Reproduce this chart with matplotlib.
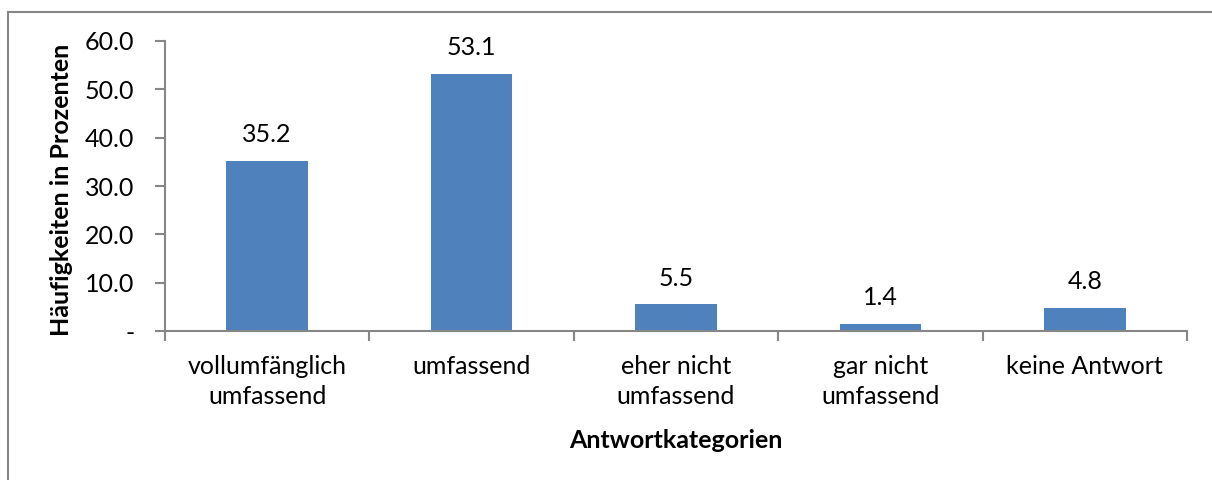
import matplotlib
matplotlib.use("Agg")
import matplotlib.pyplot as plt
from matplotlib.lines import Line2D

categories = ["vollumfänglich\numfassend", "umfassend", "eher nicht\numfassend",
              "gar nicht\numfassend", "keine Antwort"]
values = [35.2, 53.1, 5.5, 1.4, 4.8]
yticks = [0, 10, 20, 30, 40, 50, 60]
ytick_labels = ["-", "10.0", "20.0", "30.0", "40.0", "50.0", "60.0"]

plt.rcParams['font.family'] = ['Lato', 'DejaVu Sans']
FS = 18

W, H = 1212, 480
fig = plt.figure(figsize=(W / 100, H / 100), dpi=100)
ax = fig.add_axes([165 / W, 1 - 331 / H, (1187 - 165) / W, (331 - 41) / H])

x = list(range(len(categories)))
ax.bar(x, values, width=0.40, color="#4F81BD", zorder=2)
ax.set_xlim(-0.5, len(categories) - 0.5)
ax.set_ylim(0, 60)

for xi, v in zip(x, values):
    ax.annotate(f"{v:.1f}", (xi, v), xytext=(0, 19), textcoords="offset points",
                ha="center", va="center", fontsize=FS, color="black")

ax.set_yticks(yticks)
ax.set_yticklabels(ytick_labels, fontsize=FS)
ax.set_xticks([i + 0.5 for i in range(-1, len(categories))], minor=False)
ax.set_xticklabels([])
ax.set_xticks(x, minor=True)
ax.set_xticklabels(categories, minor=True, fontsize=FS, linespacing=1.38)
ax.tick_params(axis="x", which="major", direction="out", length=7, color="#868686", width=1.5)
ax.tick_params(axis="x", which="minor", length=0, pad=17)
ax.tick_params(axis="y", direction="out", length=7, color="#868686", width=1.5, pad=15)

for s in ["top", "right"]:
    ax.spines[s].set_visible(False)
for s in ["left", "bottom"]:
    ax.spines[s].set_color("#868686")
    ax.spines[s].set_linewidth(1.5)

fig.text(62 / W, 1 - 190 / H, "Häufigkeiten in Prozenten", rotation=90, ha="center", va="center",
         fontsize=FS, fontweight="bold")
fig.text(676 / W, 1 - 440 / H, "Antwortkategorien", ha="center", va="center",
         fontsize=FS, fontweight="bold")

# chart area border (Excel style)
fig.add_artist(Line2D([7.5 / W, 7.5 / W], [0, 1 - 11.5 / H], transform=fig.transFigure,
                      color="#868686", lw=1.5))
fig.add_artist(Line2D([7.5 / W, 1], [1 - 11.5 / H, 1 - 11.5 / H], transform=fig.transFigure,
                      color="#868686", lw=1.5))

fig.savefig("out.png", dpi=100, facecolor="white")
